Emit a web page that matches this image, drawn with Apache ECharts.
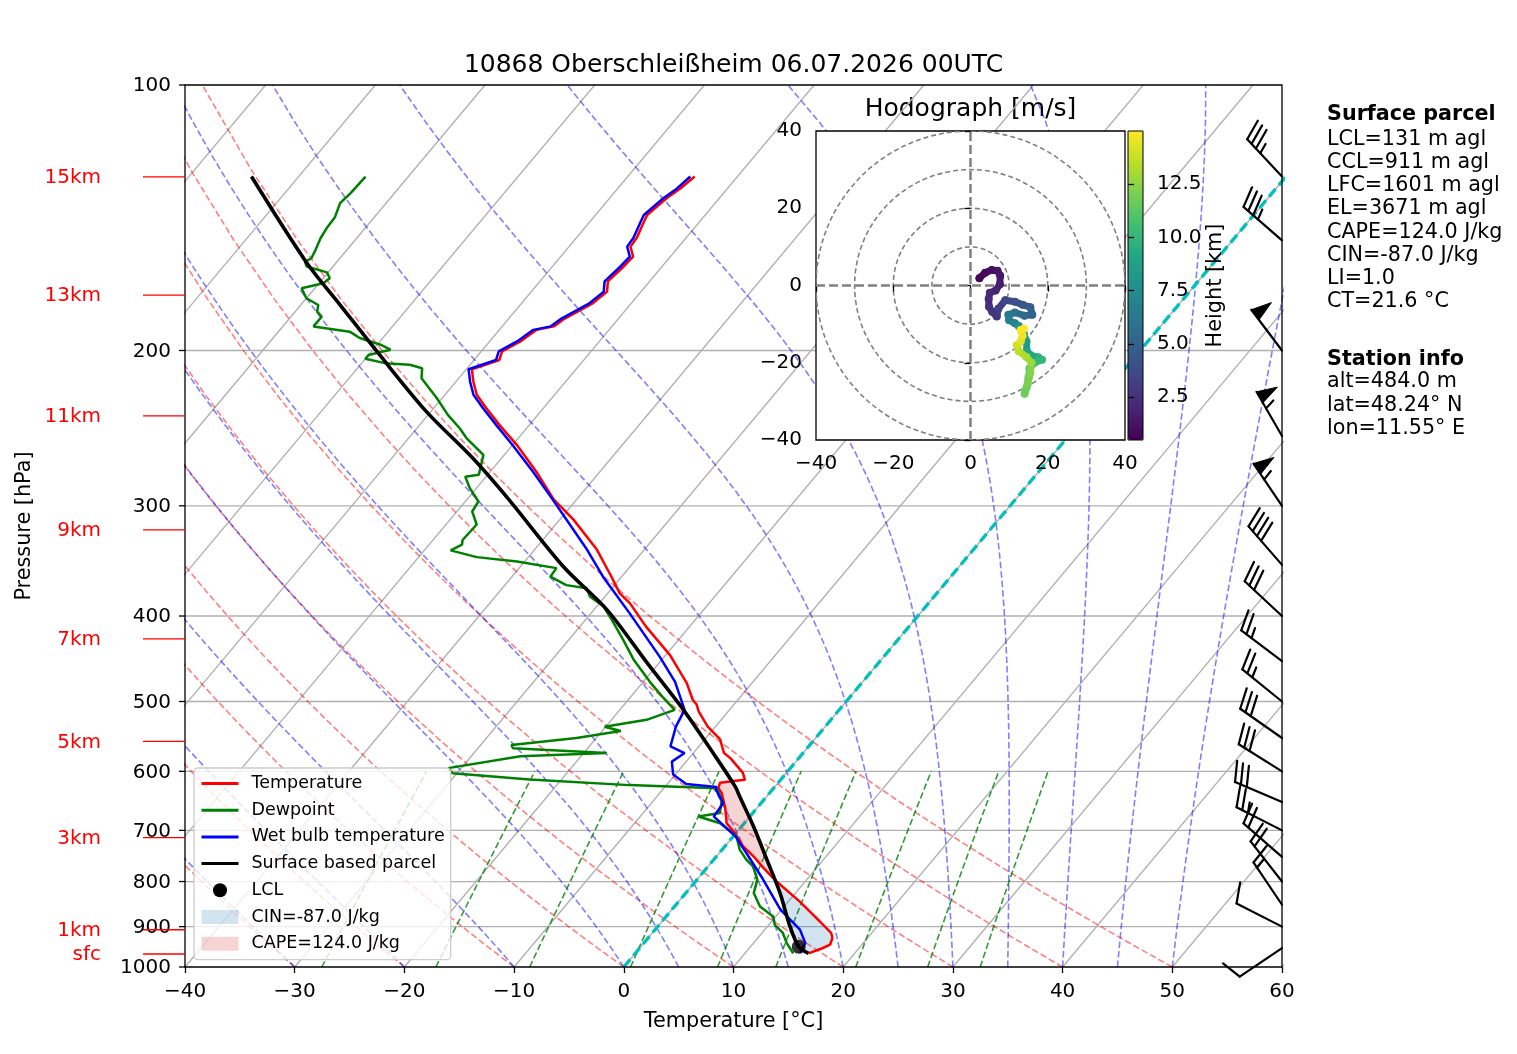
<!DOCTYPE html>
<html>
<head>
<meta charset="utf-8">
<title>Skew-T 10868 Oberschleißheim</title>
<script src="https://cdn.jsdelivr.net/npm/echarts@6/dist/echarts.min.js"></script>
<style>
html, body { margin: 0; padding: 0; background: #fff; }
#chart { width: 1517px; height: 1054px; }
</style>
</head>
<body>
<div id="chart"></div>
<script>
// ---- sounding data (pressure hPa, temperature °C), surface upward ----
const tempP = [965, 951.6, 943.5, 927, 915, 888, 869, 843, 800, 772, 749, 730, 705, 687, 660, 635, 626.8, 618, 615.5, 613.4,
  602, 597, 580, 572, 562, 552, 534, 513, 504, 498, 477, 443, 411, 387, 377, 362, 336.5, 311, 295, 274.4,
  256, 243, 232.5, 224.5, 217, 210, 205, 200.5, 195.3, 189.5, 187.8, 184, 176.7, 171.5, 167, 160.6, 156.5, 152.5, 149, 144.7,
  140.4, 134.4, 131, 127];
const tempT = [15.8, 16.7, 17.1, 16.8, 16.3, 14.4, 13.0, 11.05, 7.4, 5.16, 3.37, 1.68, -0.09, -1.61, -2.91, -4.36, -5.05, -5.3, -4.2, -3.25,
  -4.0, -4.5, -6.2, -7.2, -7.9, -8.6, -10.7, -12.7, -13.4, -14.1, -15.9, -19.6, -24.0, -27.2, -28.9, -30.8, -34.3, -38.75, -42.1, -45.8,
  -49.6, -52.7, -55.2, -57.1, -58.4, -59.5, -57.7, -58.1, -57.2, -56.6, -55.3, -54.9, -53.5, -53.1, -53.8, -53.5, -53.4, -54.4, -54.5, -54.9,
  -55.3, -54.8, -54.3, -53.9];

const dewP = [965, 939, 915, 896, 877, 854, 824.5, 796, 769, 756, 736, 711, 687, 675, 669, 646, 627, 622, 613, 603,
  595, 577, 572, 565, 560, 550, 540, 534, 524.5, 511, 494, 475, 448, 426, 404, 390, 380, 372, 369, 361,
  353, 347, 343, 337, 332, 328, 315, 304.5, 296.6, 286.5, 278, 276.7, 262.7, 251.5, 245, 236.6, 226.4, 215, 209.5, 207.6,
  206.7, 204.4, 202.4, 199.6, 197, 193.6, 190.4, 187.8, 183.1, 180.7, 177.6, 174.5, 170, 167.8, 165.6, 163.1, 160.6, 158.7, 157.2, 154.5,
  149.1, 145.3, 141.1, 136.1, 132.6, 127];
const dewT = [14.4, 13.0, 11.9, 10.55, 9.8, 7.8, 6.2, 5.5, 4.1, 3.0, 1.6, 0.3, -2.2, -4.7, -3.0, -3.85, -5.2, -13.4, -22.9, -30.4,
  -31.2, -25.5, -17.9, -26.8, -27.2, -21.8, -18.3, -20.1, -16.8, -15.0, -17.1, -19.4, -22.6, -25.0, -27.6, -29.4, -31.4, -32.3, -34.4, -36.5,
  -36.6, -40.7, -44.7, -47.6, -47.0, -47.3, -47.2, -48.6, -48.8, -50.6, -51.9, -50.8, -51.9, -54.7, -56.1, -58.2, -60.5, -63.4, -64.1, -65.5,
  -67.9, -70.0, -70.0, -68.4, -69.7, -72.1, -73.5, -77.2, -77.2, -78.0, -78.4, -80.0, -81.2, -79.6, -79.4, -80.1, -82.4, -82.9, -82.6, -82.8,
  -83.3, -83.5, -83.6, -84.2, -84.0, -83.9];

const wetP = [964, 939, 907, 861, 790, 743, 711, 675, 652, 630, 625, 620, 605, 585, 572, 562, 534, 511, 475, 445,
  397, 361, 336.5, 295, 274.4, 256, 243, 232.5, 224.5, 217, 210, 205, 200.5, 195.3, 189.5, 187.8, 184, 176.7, 171.5, 167,
  160.6, 156.5, 152.5, 149, 144.7, 140.4, 134.4, 131, 127];
const wetT = [15.0, 14.7, 13.2, 9.9, 5.65, 2.5, 0.2, -3.3, -3.45, -5.1, -5.3, -8.3, -10.2, -11.3, -10.8, -12.6, -13.6, -14.1, -17.1, -20.4,
  -26.5, -31.7, -35.2, -42.2, -46.1, -50.0, -53.0, -55.5, -57.4, -58.7, -59.8, -58.0, -58.4, -57.5, -56.9, -55.6, -55.2, -53.8, -53.4, -54.1,
  -53.8, -53.7, -54.7, -54.8, -55.2, -55.6, -55.1, -54.6, -54.3];

const parcelP = [965, 948.5, 899.5, 824.5, 755.7, 693, 643, 624, 572, 511, 452, 393.6, 351.5, 295, 265, 234.6, 203, 177.6, 158.7, 127];
const parcelT = [15.8, 14.4, 12.05, 8.6, 4.85, 1.1, -2.3, -3.65, -8.2, -14.2, -21.1, -28.8, -36.1, -46.2, -52.6, -60.4, -68.8, -76.4, -82.8, -94.3];

const lclP = [948.5];
const lclT = [14.4];
// level of free convection and equilibrium level (p, T)
const lfcPoint = [793, 6.85];
const elPoint = [615.5, -4.2];

// wind barbs (kt, direction from)
const barbP = [952, 900, 850, 800, 750, 700, 650, 600, 550, 500, 450, 400, 350, 300, 250, 200, 150, 127];
const barbSpd = [10, 10, 15, 20, 20, 25, 30, 30, 30, 25, 25, 30, 40, 55, 55, 50, 35, 35];
const barbDir = [236, 297, 326, 322, 311, 297, 293, 302, 305, 309, 307, 313, 319, 326, 330, 323, 311, 317];

// hodograph (m/s) coloured by height (km)
const hodoU = [2.3, 3.8, 5.5, 7.0, 7.7, 7.6, 6.5, 5.0, 4.7, 4.8, 5.6, 6.8, 7.2, 9.0, 11.5, 13.5, 15.5, 16.0, 14.0, 11.5,
  9.8, 10.0, 11.5, 12.5, 13.8, 14.5, 14.6, 15.5, 17.5, 18.5, 16.5, 15.3, 15.0, 14.5, 14.0, 14.8, 15.5, 15.8, 14.5, 12.5,
  12.0, 13.0, 13.5, 13.0, 13.8];
const hodoV = [1.9, 3.3, 4.0, 3.8, 2.5, 0.3, -1.3, -1.9, -3.5, -5.5, -6.8, -8.0, -6.0, -3.8, -4.2, -5.0, -5.6, -7.6, -7.8, -7.0,
  -7.6, -9.0, -9.8, -10.5, -12.5, -14.5, -17.0, -18.0, -18.6, -19.2, -20.0, -21.5, -24.0, -26.5, -28.0, -25.5, -22.5, -20.0, -18.5, -17.0,
  -15.5, -14.5, -13.0, -11.5, -11.2];
const hodoH = [0.48, 0.7, 0.9, 1.1, 1.3, 1.5, 1.7, 1.9, 2.1, 2.3, 2.5, 2.7, 2.9, 3.2, 3.6, 4.0, 4.4, 4.8, 5.2, 5.6,
  6.0, 6.4, 6.8, 7.2, 7.6, 8.0, 8.4, 8.8, 9.2, 9.6, 10.0, 10.4, 10.8, 11.2, 11.5, 11.8, 12.1, 12.4, 12.8, 13.2,
  13.6, 14.0, 14.4, 14.7, 15.0];
const hodoRings = [10, 20, 30, 40];
const heightTicks = [2.5, 5, 7.5, 10, 12.5];

// height markers on the pressure axis
const heightLabels = ['15km', '13km', '11km', '9km', '7km', '5km', '3km', '1km', 'sfc'];
const heightLabelP = [127.1, 173.1, 237.2, 319.4, 424.7, 554.9, 713.2, 907.3, 966.6];

// axes and diagram guide lines
const pressureTicks = [100, 200, 300, 400, 500, 600, 700, 800, 900, 1000];
const isothermT = [-100, -90, -80, -70, -60, -50, -40, -30, -20, -10, 0, 10, 20, 30, 40, 50, 60];
const dryTheta = [-40, -30, -20, -10, 0, 10, 20, 30, 40, 50];
const moistT0 = [-50, -40, -30, -20, -10, 0, 5, 10, 15, 20, 25, 30, 35, 40, 45, 50];
const mixRatios = [0.0004, 0.001, 0.002, 0.004, 0.007, 0.01, 0.016, 0.024, 0.032];

const surfaceInfo = ['LCL=131 m agl', 'CCL=911 m agl', 'LFC=1601 m agl', 'EL=3671 m agl',
  'CAPE=124.0 J/kg', 'CIN=-87.0 J/kg', 'LI=1.0', 'CT=21.6 °C'];
const stationInfo = ['alt=484.0 m', 'lat=48.24° N', 'lon=11.55° E'];

// ---- helpers ----
const FONT = 'DejaVu Sans';
const TICK_FS = 20;
const SKEW = 67.35; // °C shift per decade of pressure
function skewX(t, p) { return t + SKEW * Math.log10(1000 / p); }
function profile(P, T) { return P.map((p, i) => [skewX(T[i], p), p]); }
function minus(v) { return v < 0 ? '\u2212' + Math.abs(v) : String(v); }

const Rd = 287.04749, Cp = 1004.666, Lv = 2.50084e6, EPS = 0.6219569;
function satVap(tk) { const tc = tk - 273.15; return 6.112 * Math.exp(17.67 * tc / (tc + 243.5)); }
function moistLapse(p, tk) {
  const es = satVap(tk);
  const rs = EPS * es / (p - es);
  const num = Rd * tk + Lv * rs;
  const den = Cp + Lv * Lv * rs * EPS / (Rd * tk * tk);
  return num / den / p;
}
function moistAdiabat(t0) {
  let tk = t0 + 273.15, p = 1000;
  const out = [[skewX(t0, p), p]];
  const dp = -10;
  while (p > 100) {
    const k1 = moistLapse(p, tk);
    const k2 = moistLapse(p + dp / 2, tk + dp / 2 * k1);
    const k3 = moistLapse(p + dp / 2, tk + dp / 2 * k2);
    const k4 = moistLapse(p + dp, tk + dp * k3);
    tk += dp / 6 * (k1 + 2 * k2 + 2 * k3 + k4);
    p += dp;
    out.push([skewX(tk - 273.15, p), p]);
  }
  return out;
}
function dryAdiabat(theta) {
  const out = [];
  for (let p = 1000; p >= 100; p -= 25) {
    const tk = (theta + 273.15) * Math.pow(p / 1000, 0.2857);
    out.push([skewX(tk - 273.15, p), p]);
  }
  return out;
}
function mixLine(w) {
  const out = [];
  for (let p = 1000; p >= 600; p -= 25) {
    const e = p * w / (EPS + w);
    const a = Math.log(e / 6.112);
    const td = 243.5 * a / (17.67 - a);
    out.push([skewX(td, p), p]);
  }
  return out;
}
function guide(data, color, width, type, z) {
  return {
    type: 'line', xAxisIndex: 0, yAxisIndex: 0, data: data, symbol: 'none', showSymbol: false,
    silent: true, clip: true, z: z || 1, lineStyle: { color: color, width: width, type: type }
  };
}
function profileLine(name, P, T, color, width, smooth) {
  return {
    name: name, type: 'line', xAxisIndex: 0, yAxisIndex: 0, data: profile(P, T), symbol: 'none',
    showSymbol: false, clip: true, z: 3, smooth: smooth || false, color: color,
    lineStyle: { color: color, width: width }
  };
}
function polygonSeries(name, verts, color) {
  return {
    name: name, type: 'custom', xAxisIndex: 0, yAxisIndex: 0, data: verts, z: 2, silent: true,
    itemStyle: { color: color },
    renderItem: function (params, api) {
      if (params.dataIndex !== 0) return null;
      const pts = verts.map(d => api.coord(d));
      return { type: 'polygon', shape: { points: pts }, style: { fill: color } };
    }
  };
}
function barbShape(base, spd, dirDeg) {
  const L = 51, H = 0.4 * L, FW = 0.25 * L, SP = 0.125 * L;
  const d = dirDeg * Math.PI / 180;
  const sx = Math.sin(d), sy = -Math.cos(d);   // staff, towards the wind source
  const fx = Math.cos(d), fy = Math.sin(d);    // feather side
  const pt = (a, b) => [base[0] + a * sx + b * fx, base[1] + a * sy + b * fy];
  const kids = [];
  const stroke = { stroke: '#000', lineWidth: 2.2, lineCap: 'round' };
  const addLine = (a, b) => kids.push({ type: 'polyline', shape: { points: [a, b] }, style: stroke });
  addLine(pt(0, 0), pt(L, 0));
  const r = Math.round(spd / 5) * 5;
  const nFlags = Math.floor(r / 50);
  const nBarbs = Math.floor((r - nFlags * 50) / 10);
  const half = (r % 10) >= 5;
  let off = L;
  for (let i = 0; i < nFlags; i++) {
    if (off !== L) off += SP / 2;
    kids.push({ type: 'polygon', shape: { points: [pt(off, 0), pt(off - FW / 2, H), pt(off - FW, 0)] },
      style: { fill: '#000', stroke: '#000', lineWidth: 1 } });
    off -= FW + SP;
  }
  for (let i = 0; i < nBarbs; i++) {
    addLine(pt(off, 0), pt(off + FW / 2, H));
    off -= SP;
  }
  if (half) {
    if (off === L) off -= 1.5 * SP;
    addLine(pt(off, 0), pt(off + FW / 4, H / 2));
  }
  return kids;
}

// ---- series ----
const series = [];
pressureTicks.slice(1, -1).forEach(p => series.push(guide([[-40, p], [60, p]], '#b0b0b0', 1.3, 'solid', 1)));
isothermT.forEach(t => series.push(guide([[skewX(t, 1000), 1000], [skewX(t, 100), 100]], '#b0b0b0', 1.3, 'solid', 1)));
dryTheta.forEach(t => series.push(guide(dryAdiabat(t), 'rgba(255,0,0,0.5)', 1.6, [6.5, 3], 1)));
moistT0.forEach(t => series.push(guide(moistAdiabat(t), 'rgba(0,0,255,0.5)', 1.6, [6.5, 3], 1)));
mixRatios.forEach(w => series.push(guide(mixLine(w), 'rgba(0,128,0,0.8)', 1.6, [6.5, 3], 1)));
series.push(guide([[skewX(0, 1000), 1000], [skewX(0, 100), 100]], '#00bfbf', 3.3, [10, 5], 1));

// CIN / CAPE shading between environment and parcel
const cinVerts = [];
tempP.forEach((p, i) => { if (p >= 800) cinVerts.push([skewX(tempT[i], p), p]); });
cinVerts.push([skewX(lfcPoint[1], lfcPoint[0]), lfcPoint[0]]);
for (let i = parcelP.length - 1; i >= 0; i--) if (parcelP[i] > lfcPoint[0]) cinVerts.push([skewX(parcelT[i], parcelP[i]), parcelP[i]]);
const capeVerts = [[skewX(lfcPoint[1], lfcPoint[0]), lfcPoint[0]]];
tempP.forEach((p, i) => { if (p < lfcPoint[0] && p > elPoint[0]) capeVerts.push([skewX(tempT[i], p), p]); });
capeVerts.push([skewX(elPoint[1], elPoint[0]), elPoint[0]]);
for (let i = parcelP.length - 1; i >= 0; i--) if (parcelP[i] < lfcPoint[0] && parcelP[i] > elPoint[0]) capeVerts.push([skewX(parcelT[i], parcelP[i]), parcelP[i]]);
series.push(polygonSeries('CIN=-87.0 J/kg', cinVerts, 'rgba(31,119,180,0.2)'));
series.push(polygonSeries('CAPE=124.0 J/kg', capeVerts, 'rgba(214,39,40,0.2)'));

series.push(profileLine('Temperature', tempP, tempT, '#ff0000', 2.5));
series.push(profileLine('Dewpoint', dewP, dewT, '#008000', 2.5));
series.push(profileLine('Wet bulb temperature', wetP, wetT, '#0000ff', 2.5));
series.push(profileLine('Surface based parcel', parcelP, parcelT, '#000000', 3.6, 0.3));
series.push({
  name: 'LCL', type: 'scatter', xAxisIndex: 0, yAxisIndex: 0, data: profile(lclP, lclT),
  symbol: 'circle', symbolSize: 14, itemStyle: { color: '#000' }, z: 4, silent: true
});

// pressure tick labels
series.push({
  type: 'custom', xAxisIndex: 0, yAxisIndex: 0, clip: false, silent: true, z: 3,
  data: pressureTicks.map(p => [-40, p]),
  renderItem: function (params, api) {
    const pt = api.coord([api.value(0), api.value(1)]);
    return { type: 'group', children: [
      { type: 'line', shape: { x1: pt[0] - 6, y1: pt[1], x2: pt[0], y2: pt[1] }, style: { stroke: '#000', lineWidth: 1.3 } },
      { type: 'text', x: pt[0] - 14, y: pt[1] + 1, style: { text: String(api.value(1)), align: 'right', verticalAlign: 'middle',
        fontSize: TICK_FS, fontFamily: FONT, fill: '#000' } }
    ] };
  }
});
// height markers
series.push({
  type: 'custom', xAxisIndex: 0, yAxisIndex: 0, clip: false, silent: true, z: 3,
  data: heightLabelP.map(p => [-40, p]),
  renderItem: function (params, api) {
    const pt = api.coord([api.value(0), api.value(1)]);
    return { type: 'group', children: [
      { type: 'line', shape: { x1: pt[0] - 42, y1: pt[1], x2: pt[0], y2: pt[1] }, style: { stroke: '#ff0000', lineWidth: 1.3 } },
      { type: 'text', x: pt[0] - 84, y: pt[1] + 1, style: { text: heightLabels[params.dataIndex], align: 'right', verticalAlign: 'middle',
        fontSize: TICK_FS, fontFamily: FONT, fill: '#ff0000' } }
    ] };
  }
});
// wind barbs on the right edge
series.push({
  type: 'custom', xAxisIndex: 0, yAxisIndex: 0, clip: false, silent: true, z: 4,
  data: barbP.map((p, i) => [60, p, barbSpd[i], barbDir[i]]),
  encode: { x: 0, y: 1 },
  renderItem: function (params, api) {
    const base = api.coord([api.value(0), api.value(1)]);
    return { type: 'group', children: barbShape(base, api.value(2), api.value(3)) };
  }
});

// hodograph
series.push({
  type: 'custom', xAxisIndex: 1, yAxisIndex: 1, clip: true, silent: true, z: 6,
  data: hodoRings.map(r => [r, 0]),
  renderItem: function (params, api) {
    const c = api.coord([0, 0]);
    const r = api.size([api.value(0), 0])[0];
    return { type: 'circle', shape: { cx: c[0], cy: c[1], r: r },
      style: { fill: 'none', stroke: '#808080', lineWidth: 1.6, lineDash: [5, 3] } };
  }
});
series.push({ type: 'line', xAxisIndex: 1, yAxisIndex: 1, data: [[-40, 0], [40, 0]], symbol: 'none', silent: true, z: 6,
  lineStyle: { color: '#808080', width: 2.5, type: [9, 4] } });
series.push({ type: 'line', xAxisIndex: 1, yAxisIndex: 1, data: [[0, -40], [0, 40]], symbol: 'none', silent: true, z: 6,
  lineStyle: { color: '#808080', width: 2.5, type: [9, 4] } });
const hodoIndex = series.length;
series.push({
  type: 'custom', xAxisIndex: 1, yAxisIndex: 1, clip: true, silent: true, z: 7,
  data: hodoU.map((u, i) => [u, hodoV[i], hodoH[i]]),
  encode: { x: 0, y: 1 },
  renderItem: function (params, api) {
    const i = params.dataIndex;
    const cur = api.coord([api.value(0), api.value(1)]);
    const color = api.visual('color');
    const kids = [];
    if (i > 0) {
      const prev = api.coord([hodoU[i - 1], hodoV[i - 1]]);
      kids.push({ type: 'line', shape: { x1: prev[0], y1: prev[1], x2: cur[0], y2: cur[1] },
        style: { stroke: color, lineWidth: 7, lineCap: 'round' } });
    }
    kids.push({ type: 'circle', shape: { cx: cur[0], cy: cur[1], r: 4 }, style: { fill: color } });
    return { type: 'group', children: kids };
  }
});

const viridis = ['#440154', '#482475', '#414487', '#355f8d', '#2a788e', '#21918c', '#22a884', '#44bf70', '#7ad151', '#bddf26', '#fde725'];

// ---- text blocks ----
const INFO_FS = 20.7;
const graphics = [{ type: 'text', x: 733.5, y: 65.5, style: { text: '10868 Oberschleißheim 06.07.2026 00UTC', align: 'center',
  verticalAlign: 'middle', fontSize: 25, fontFamily: FONT, fill: '#000' } },
{ type: 'text', x: 970.5, y: 109, style: { text: 'Hodograph [m/s]', align: 'center', verticalAlign: 'middle',
  fontSize: 25, fontFamily: FONT, fill: '#000' } }];
graphics.push({ type: 'text', x: 1327, y: 114.5, style: { text: 'Surface parcel', align: 'left', verticalAlign: 'middle',
  fontSize: INFO_FS, fontWeight: 'bold', fontFamily: FONT, fill: '#000' } });
surfaceInfo.forEach((t, i) => graphics.push({ type: 'text', x: 1327, y: 139.5 + i * 23.2, style: { text: t, align: 'left',
  verticalAlign: 'middle', fontSize: INFO_FS, fontFamily: FONT, fill: '#000' } }));
graphics.push({ type: 'text', x: 1327, y: 360, style: { text: 'Station info', align: 'left', verticalAlign: 'middle',
  fontSize: INFO_FS, fontWeight: 'bold', fontFamily: FONT, fill: '#000' } });
stationInfo.forEach((t, i) => graphics.push({ type: 'text', x: 1327, y: 382 + i * 23.2, style: { text: t, align: 'left',
  verticalAlign: 'middle', fontSize: INFO_FS, fontFamily: FONT, fill: '#000' } }));

const legendNames = ['Temperature', 'Dewpoint', 'Wet bulb temperature', 'Surface based parcel', 'LCL', 'CIN=-87.0 J/kg', 'CAPE=124.0 J/kg'];

const option = {
  animation: false,
  backgroundColor: '#ffffff',
  textStyle: { fontFamily: FONT },
  grid: [
    { left: 185, top: 85, width: 1097, height: 882, show: true, borderColor: '#000', borderWidth: 1.3, backgroundColor: 'transparent', z: 3 },
    { left: 816, top: 131, width: 309, height: 309, show: true, borderColor: '#000', borderWidth: 1.3, backgroundColor: '#ffffff', z: 5 },
    { left: 1128, top: 131, width: 15, height: 309, show: true, borderColor: '#000', borderWidth: 1, backgroundColor: 'transparent', z: 10 }
  ],
  xAxis: [
    { type: 'value', gridIndex: 0, min: -40, max: 60, interval: 10,
      axisLine: { show: false }, splitLine: { show: false },
      axisTick: { show: true, inside: false, length: 6, lineStyle: { color: '#000', width: 1.3 } },
      axisLabel: { fontSize: TICK_FS, color: '#000', margin: 15, formatter: minus },
      name: 'Temperature [°C]', nameLocation: 'middle', nameGap: 44, nameTextStyle: { fontSize: 20.8, color: '#000' } },
    { type: 'value', gridIndex: 1, min: -40, max: 40, interval: 20, z: 6,
      axisLine: { show: false }, splitLine: { show: false },
      axisTick: { show: true, inside: false, length: 6, lineStyle: { color: '#000', width: 1.3 } },
      axisLabel: { fontSize: TICK_FS, color: '#000', margin: 14, formatter: minus } },
    { type: 'value', gridIndex: 2, min: 0, max: 1, show: false }
  ],
  yAxis: [
    { type: 'log', logBase: 10, gridIndex: 0, min: 100, max: 1000, inverse: true,
      axisLine: { show: false }, axisTick: { show: false }, axisLabel: { show: false }, splitLine: { show: false },
      name: 'Pressure [hPa]', nameLocation: 'middle', nameGap: 150, nameRotate: 90,
      nameTextStyle: { fontSize: 20.8, color: '#000' } },
    { type: 'value', gridIndex: 1, min: -40, max: 40, interval: 20, z: 6,
      axisLine: { show: false }, splitLine: { show: false },
      axisTick: { show: true, inside: false, length: 6, lineStyle: { color: '#000', width: 1.3 } },
      axisLabel: { fontSize: TICK_FS, color: '#000', margin: 14, formatter: minus } },
    { type: 'value', gridIndex: 2, position: 'right', min: 0.484, max: 15.0, z: 10,
      axisLine: { show: false }, splitLine: { show: false },
      axisTick: { show: true, inside: false, length: 6, customValues: heightTicks, lineStyle: { color: '#000', width: 1.3 } },
      axisLabel: { fontSize: TICK_FS, color: '#000', margin: 14, customValues: heightTicks, formatter: v => v.toFixed(1) },
      name: 'Height [km]', nameLocation: 'middle', nameRotate: 90, nameGap: 56,
      nameTextStyle: { fontSize: 20.8, color: '#000' } }
  ],
  visualMap: [{
    type: 'continuous', min: 0.484, max: 15.0, dimension: 2, seriesIndex: hodoIndex,
    inRange: { color: viridis }, calculable: false, hoverLink: false, realtime: false,
    orient: 'vertical', left: 1128, top: 131, itemWidth: 15, itemHeight: 309, padding: 0,
    textStyle: { color: 'rgba(0,0,0,0)' }
  }],
  legend: {
    orient: 'vertical', left: 194, top: 768, padding: [6.5, 6, 7, 6], itemGap: 8.7,
    itemWidth: 37, itemHeight: 14, selectedMode: false,
    backgroundColor: 'rgba(255,255,255,0.8)', borderColor: '#cccccc', borderWidth: 1.3, borderRadius: 4,
    textStyle: { fontSize: 17.5, color: '#000', fontFamily: FONT, padding: [0, 0, 0, 8] },
    itemStyle: { opacity: 0 },
    lineStyle: { width: 3 },
    data: legendNames.map((n, i) => {
      if (n === 'LCL') return { name: n, icon: 'circle', itemStyle: { opacity: 1, color: '#000' } };
      if (i >= 5) return { name: n, icon: 'rect', itemStyle: { opacity: 1 } };
      return { name: n };
    })
  },
  graphic: graphics,
  series: series
};

const chart = echarts.init(document.getElementById('chart'));
chart.setOption(option);
</script>
</body>
</html>
